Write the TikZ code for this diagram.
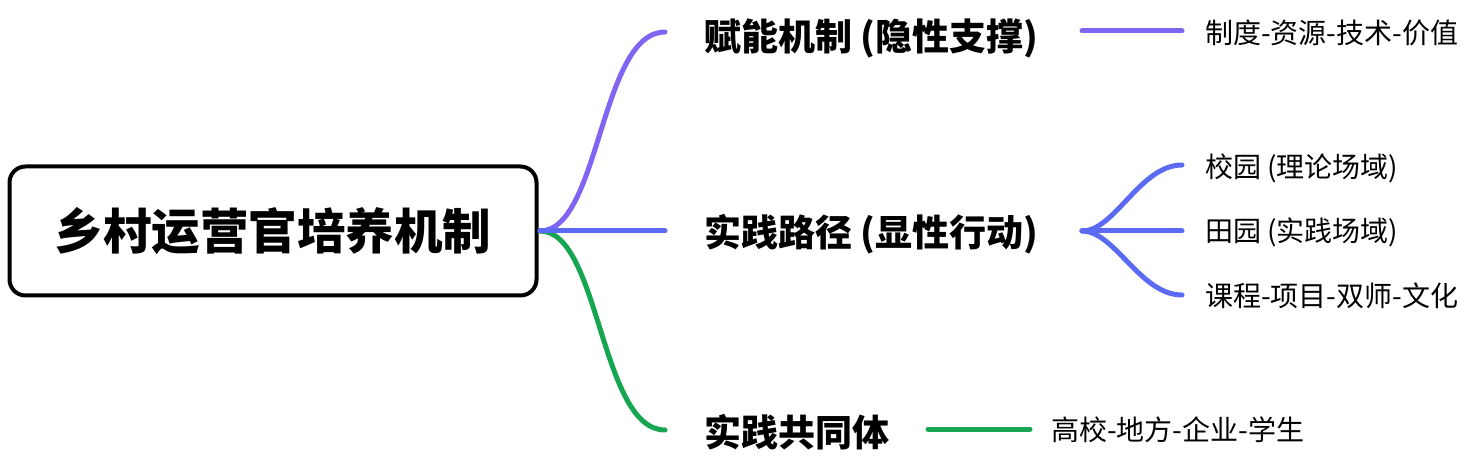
\documentclass[tikz,border=0pt]{standalone}
\usepackage{fontspec}
\setmainfont{Noto Sans CJK SC}
\newfontfamily\cjk{Noto Sans CJK SC}
\usetikzlibrary{positioning}
\definecolor{cpurple}{HTML}{8064F2}
\definecolor{cblue}{HTML}{5A6AF2}
\definecolor{cgreen}{HTML}{16A651}
\tikzset{
  rootbox/.style={draw=black, line width=4pt, rounded corners=16pt, fill=white, minimum width=527pt, minimum height=129pt, inner sep=0pt, font=\cjk\bfseries\fontsize{48.5}{52}\selectfont},
  mainlabel/.style={anchor=west, inner sep=0pt, font=\cjk\bfseries\fontsize{37}{40}\selectfont},
  sublabel/.style={anchor=west, inner sep=0pt, font=\cjk\fontsize{28}{31}\selectfont},
  branch/.style={line width=5pt, line cap=round},
}
\begin{document}
\begin{tikzpicture}[x=1pt,y=-1pt]
\useasboundingbox (0,0) rectangle (1476,462);
\node[rootbox] (root) at (273,231) {乡村运营官培养机制};
\coordinate (o) at (540,231);
\coordinate (p1) at (665,32);
\coordinate (b1) at (665,231);
\coordinate (g1) at (665,430);
\draw[branch, cpurple] (o) .. controls (600,231) and (600,32) .. (p1);
\draw[branch, cgreen] (o) .. controls (600,231) and (600,430) .. (g1);
\draw[branch, cblue] (o) -- (b1);

\node[mainlabel] (m1) at (704,38) {赋能机制 (隐性支撑)};
\node[mainlabel] (m2) at (704,234) {实践路径 (显性行动)};
\node[mainlabel] (m3) at (704,432) {实践共同体};

\coordinate (pa) at (1082,31);
\coordinate (pb) at (1182,31);
\draw[branch, cpurple] (pa) -- (pb);
\node[sublabel] (s1) at (1205,33) {制度-资源-技术-价值};

\coordinate (ba) at (1082,231);
\coordinate (bb1) at (1182,165);
\coordinate (bb2) at (1182,231);
\coordinate (bb3) at (1182,295);
\draw[branch, cblue] (ba) .. controls (1115,231) and (1140,165) .. (bb1);
\draw[branch, cblue] (ba) -- (bb2);
\draw[branch, cblue] (ba) .. controls (1115,231) and (1140,295) .. (bb3);
\node[sublabel] (s2) at (1205,168) {校园 (理论场域)};
\node[sublabel] (s3) at (1205,232) {田园 (实践场域)};
\node[sublabel] (s4) at (1205,296) {课程-项目-双师-文化};

\coordinate (ga) at (928,429);
\coordinate (gb) at (1030,429);
\draw[branch, cgreen] (ga) -- (gb);
\node[sublabel] (s5) at (1051,430) {高校-地方-企业-学生};
\end{tikzpicture}
\end{document}
